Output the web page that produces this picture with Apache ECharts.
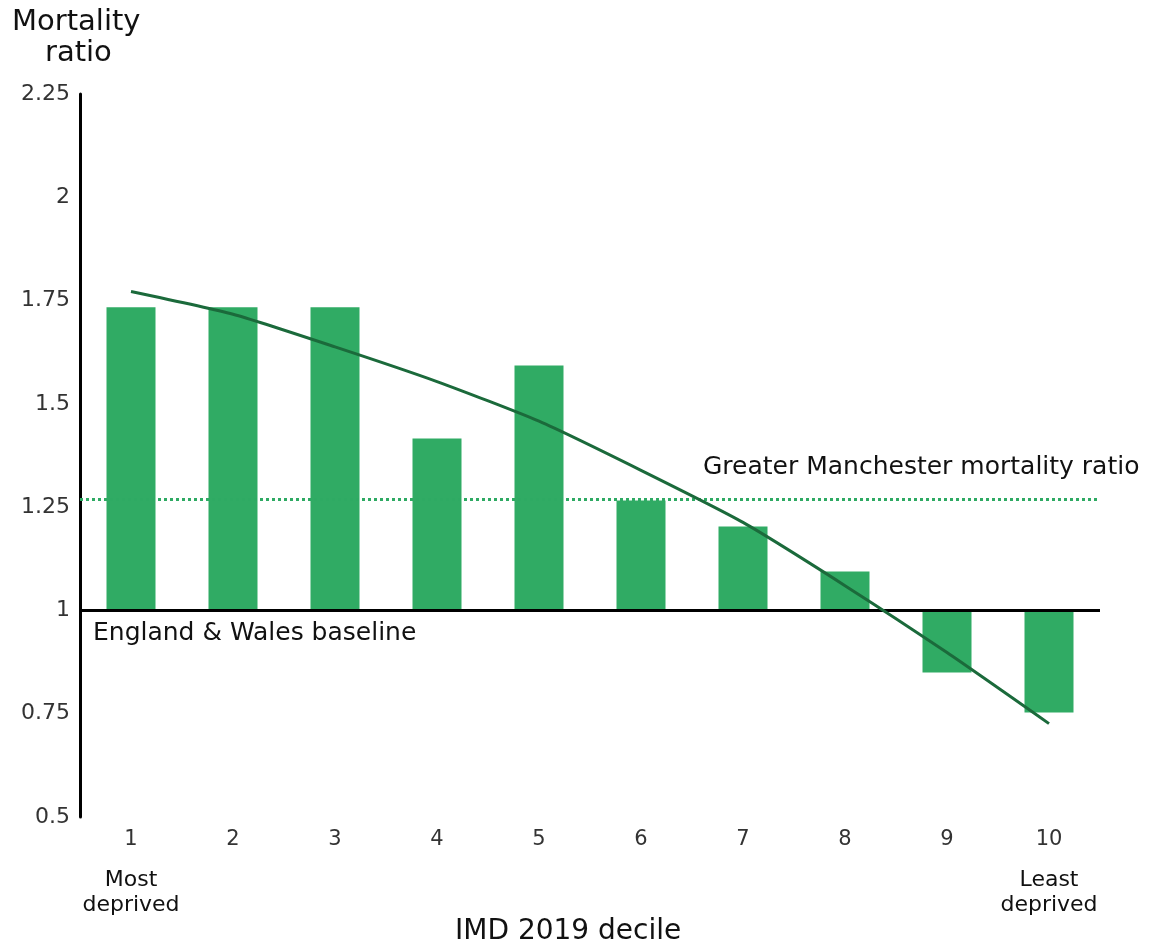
<!DOCTYPE html>
<html>
<head>
<meta charset="utf-8">
<title>Mortality ratio by IMD 2019 decile</title>
<script src="https://cdn.jsdelivr.net/npm/echarts@6.0.0/dist/echarts.min.js"></script>
<style>
  html, body { margin: 0; padding: 0; background: #fff; }
  #chart { width: 1155px; height: 948px; }
</style>
</head>
<body>
<div id="chart"></div>
<script>
// IMD 2019 deciles (1 = most deprived, 10 = least deprived)
const deciles = ['1', '2', '3', '4', '5', '6', '7', '8', '9', '10']
// mortality ratio per decile (bars, drawn from the 1.0 baseline)
const mortalityRatio = [1.734, 1.734, 1.734, 1.416, 1.593, 1.266, 1.203, 1.094, 0.85, 0.753]
// fitted trend line
const trendRatio = [1.772, 1.717, 1.638, 1.554, 1.458, 1.339, 1.213, 1.06, 0.898, 0.726]
// reference levels
const baselineRatio = 1
const gmRatio = 1.268
// y axis ticks
const yTicks = [0.5, 0.75, 1, 1.25, 1.5, 1.75, 2, 2.25]

const FONT = '"DejaVu Sans", sans-serif'
const BAR_GREEN = '#30ab64'
const LINE_GREEN = '#1b6a3b'

const chart = echarts.init(document.getElementById('chart'))

// bars start at the baseline: invisible base of 1, then the difference stacked on it
const barBase = mortalityRatio.map(() => baselineRatio)
const barDelta = mortalityRatio.map(v => +(v - baselineRatio).toFixed(3))

const option = {
  animation: false,
  grid: { left: 80, top: 94, width: 1020, height: 723 },
  xAxis: {
    type: 'category',
    data: deciles,
    axisLine: { show: false },
    axisTick: { show: false },
    axisLabel: {
      interval: 0,
      margin: 10,
      fontFamily: FONT,
      formatter: (val, idx) => {
        if (idx === 0) return '{n|' + val + '}\n{g| }\n{s|Most}\n{s|deprived}'
        if (idx === deciles.length - 1) return '{n|' + val + '}\n{g| }\n{s|Least}\n{s|deprived}'
        return '{n|' + val + '}'
      },
      rich: {
        n: { fontSize: 21, lineHeight: 26, color: '#333', fontFamily: FONT },
        g: { fontSize: 10, lineHeight: 15 },
        s: { fontSize: 22, lineHeight: 25, color: '#111', fontFamily: FONT }
      }
    }
  },
  yAxis: {
    type: 'value',
    min: yTicks[0],
    max: yTicks[yTicks.length - 1],
    interval: 0.25,
    axisLine: { show: true, lineStyle: { color: '#000', width: 3 } },
    axisTick: { show: false },
    splitLine: { show: false },
    axisLabel: {
      margin: 10,
      fontSize: 22,
      color: '#333',
      fontFamily: FONT,
      formatter: v => String(+v.toFixed(2))
    }
  },
  series: [
    {
      type: 'bar',
      stack: 'ratio',
      stackStrategy: 'all',
      data: barBase,
      barWidth: 49,
      itemStyle: { color: 'transparent' },
      silent: true,
      markLine: {
        silent: true,
        symbol: 'none',
        label: { show: false },
        lineStyle: { color: '#000', width: 3, type: 'solid' },
        data: [{ yAxis: baselineRatio }]
      }
    },
    {
      type: 'bar',
      stack: 'ratio',
      stackStrategy: 'all',
      data: barDelta,
      barWidth: 49,
      itemStyle: { color: BAR_GREEN },
      markLine: {
        silent: true,
        symbol: 'none',
        label: { show: false },
        lineStyle: { color: '#2eaa63', width: 3, type: [3, 3] },
        data: [{ yAxis: gmRatio }]
      }
    },
    {
      type: 'line',
      data: trendRatio,
      symbol: 'none',
      smooth: 0.2,
      lineStyle: { color: LINE_GREEN, width: 3 },
      z: 5
    }
  ],
  graphic: [
    {
      type: 'text', left: 12, top: 8,
      style: { text: 'Mortality', fill: '#111', font: '29px ' + FONT }
    },
    {
      type: 'text', left: 45, top: 39,
      style: { text: 'ratio', fill: '#111', font: '29px ' + FONT }
    },
    {
      type: 'text', left: 93, top: 621,
      style: { text: 'England & Wales baseline', fill: '#111', font: '25px ' + FONT }
    },
    {
      type: 'text', left: 703, top: 455,
      style: { text: 'Greater Manchester mortality ratio', fill: '#111', font: '25px ' + FONT }
    },
    {
      type: 'text', left: 455, top: 918,
      style: { text: 'IMD 2019 decile', fill: '#111', font: '28px ' + FONT }
    }
  ]
}

chart.setOption(option)
</script>
</body>
</html>
